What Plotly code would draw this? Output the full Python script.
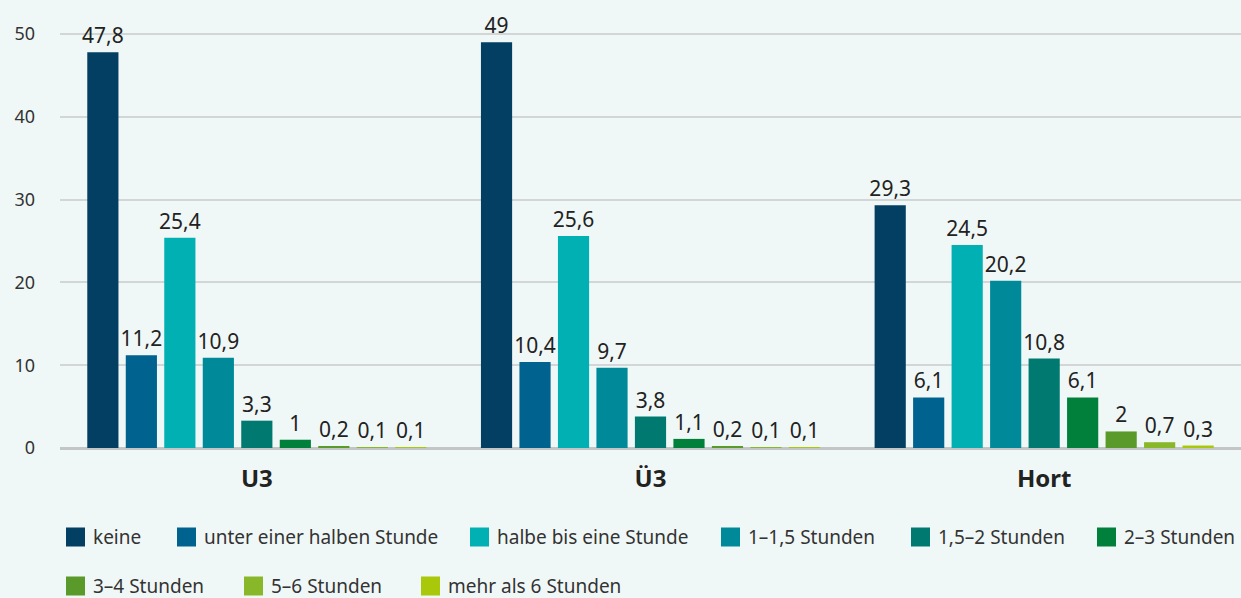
import plotly.graph_objects as go

categories = ["U3", "Ü3", "Hort"]
series_names = ["keine", "unter einer halben Stunde", "halbe bis eine Stunde",
                "1–1,5 Stunden", "1,5–2 Stunden", "2–3 Stunden",
                "3–4 Stunden", "5–6 Stunden", "mehr als 6 Stunden"]
keine = [47.8, 49, 29.3]
unter_halbe = [11.2, 10.4, 6.1]
halbe_bis_eine = [25.4, 25.6, 24.5]
h1_15 = [10.9, 9.7, 20.2]
h15_2 = [3.3, 3.8, 10.8]
h2_3 = [1, 1.1, 6.1]
h3_4 = [0.2, 0.2, 2]
h5_6 = [0.1, 0.1, 0.7]
mehr6 = [0.1, 0.1, 0.3]
series_values = [keine, unter_halbe, halbe_bis_eine, h1_15, h15_2, h2_3, h3_4, h5_6, mehr6]
y_ticks = [0, 10, 20, 30, 40, 50]

colors = ["#023f62", "#00628f", "#00b0b3", "#008a99", "#007a70",
          "#00803a", "#5a9a2a", "#88b82a", "#aac80a"]

W, H = 1241, 598
ML, MR, MT, MB = 60, 0, 0, 150
PW, PH = W - ML - MR, H - MT - MB
FONT = "Noto Sans"

def fmt(v):
    return f"{v:g}".replace(".", ",")

fig = go.Figure()
for name, vals, col in zip(series_names, series_values, colors):
    fig.add_trace(go.Bar(
        x=categories, y=vals, name=name, marker_color=col,
        marker_line_width=0,
        text=[fmt(v) for v in vals], textposition="outside",
        textfont=dict(size=21, color="#222", family=FONT),
        constraintext="none",
        cliponaxis=False, showlegend=False,
    ))

# manual legend (square + label), layout positions in pixels
legend_pos = [(66, 537), (177, 537), (470, 537), (721, 537), (911, 537), (1097, 537),
              (66, 586), (244, 586), (421, 586)]
SQ = 19
shapes = []
annotations = []
for (px, py), name, col in zip(legend_pos, series_names, colors):
    x0 = (px - ML) / PW
    x1 = (px + SQ - ML) / PW
    y0 = (PH - (py + SQ / 2)) / PH
    y1 = (PH - (py - SQ / 2)) / PH
    shapes.append(dict(type="rect", xref="paper", yref="paper", x0=x0, x1=x1,
                       y0=y0, y1=y1, fillcolor=col, line_width=0))
    annotations.append(dict(xref="paper", yref="paper", x=(px + SQ + 6 - ML) / PW,
                            y=(PH - py) / PH, text=name, showarrow=False,
                            xanchor="left", yanchor="middle",
                            font=dict(size=19, color="#333", family=FONT)))

fig.update_layout(
    width=W, height=H,
    margin=dict(l=ML, r=MR, t=MT, b=MB),
    paper_bgcolor="#f0f8f7", plot_bgcolor="#f0f8f7",
    barmode="group", bargap=0.12, bargroupgap=0.19,
    separators=", ",
    font=dict(family=FONT, color="#333"),
    shapes=shapes, annotations=annotations,
    showlegend=False,
    xaxis=dict(showgrid=False, ticks="", showline=False,
               tickfont=dict(size=24, color="#222", family=FONT, weight="bold"),
               ticklabelstandoff=14),
    yaxis=dict(range=[0, 54.1], tickvals=y_ticks, ticks="",
               showgrid=True, gridcolor="#d2d6d6", gridwidth=1.5,
               zeroline=True, zerolinecolor="#c4c6c6", zerolinewidth=3,
               tickfont=dict(size=18, color="#333", family=FONT),
               ticklabelstandoff=24, showline=False),
)

fig.write_html("out.html", config={"displayModeBar": False},
               post_script="document.body.style.margin='0';document.body.style.background='#f0f8f7';")
